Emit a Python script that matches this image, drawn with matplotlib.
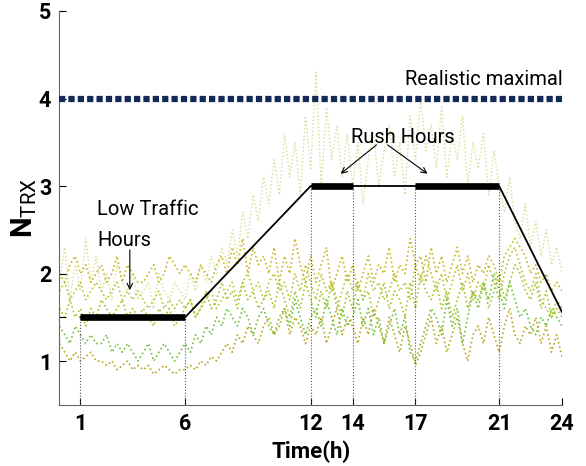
import numpy as np
import matplotlib
matplotlib.use("Agg")
import matplotlib.pyplot as plt
from matplotlib import font_manager

names = {f.name for f in font_manager.fontManager.ttflist}
FAM = "Liberation Sans Narrow" if "Liberation Sans Narrow" in names else (
    "Roboto" if "Roboto" in names else "Liberation Sans")
plt.rcParams['font.family'] = [FAM, 'DejaVu Sans']
plt.rcParams['mathtext.fontset'] = 'custom'
plt.rcParams['mathtext.rm'] = FAM
plt.rcParams['mathtext.bf'] = FAM + ':bold'

# ---------------- data ----------------
hours = np.arange(0, 24.001, 0.25)

trace_faint = [
    1.9, 2.3, 1.7, 2.1, 1.8, 2.4, 1.9, 2.2,
    1.8, 2.0, 1.7, 2.1, 1.9, 1.8, 2.0, 1.7,
    1.8, 1.9, 1.6, 2.0, 1.8, 1.7, 1.9, 1.8,
    1.7, 2.0, 1.8, 2.1, 1.9, 2.2, 2.0, 2.3,
    2.1, 2.5, 2.2, 2.7, 2.4, 2.9, 2.6, 3.1,
    2.8, 3.3, 2.9, 3.6, 3.1, 3.5, 2.9, 3.8,
    3.2, 4.3, 3.0, 3.9, 3.3, 3.7, 3.1, 3.6,
    3.0, 3.5, 2.8, 3.3, 3.6, 3.0, 3.4, 3.7,
    3.1, 3.5, 2.9, 3.8, 3.3, 4.0, 3.4, 3.7,
    3.2, 3.9, 3.1, 3.6, 3.3, 3.8, 3.0, 3.5,
    3.2, 3.6, 2.9, 3.4, 3.0, 2.7, 3.1, 2.6,
    2.4, 2.8, 2.3, 2.6, 2.2, 2.5, 2.1, 2.3,
    2.0]

trace_a = [
    2.0, 1.9, 2.1, 2.2, 2.0, 2.1, 1.9, 2.0,
    2.1, 1.9, 2.0, 2.2, 1.9, 2.1, 2.0, 1.9,
    1.9, 2.0, 2.1, 1.9, 2.0, 2.2, 2.1, 2.0,
    2.1, 2.0, 1.9, 2.1, 2.0, 1.9, 2.1, 2.2,
    2.0, 2.3, 2.1, 2.4, 2.0, 2.3, 2.1, 2.2,
    2.0, 2.3, 1.9, 2.2, 2.0, 2.4, 2.1, 1.9,
    2.2, 1.9, 2.1, 2.3, 1.8, 2.0, 2.2, 1.9,
    2.1, 1.8, 2.0, 2.2, 1.9, 2.1, 2.0, 2.3,
    1.9, 2.1, 2.0, 2.4, 2.1, 2.2, 1.9, 2.3,
    2.0, 2.2, 1.9, 2.1, 2.3, 2.0, 2.2, 1.9,
    2.1, 2.0, 2.2, 2.1, 1.9, 2.2, 2.3, 2.4,
    2.3, 2.2, 2.0, 2.1, 1.9, 2.0, 1.8, 1.9,
    1.8]

trace_b = [
    1.6, 1.5, 1.7, 1.5, 1.6, 1.4, 1.6, 1.5,
    1.7, 1.6, 1.5, 1.6, 1.7, 1.5, 1.6, 1.5,
    1.6, 1.5, 1.4, 1.6, 1.5, 1.6, 1.4, 1.5,
    1.6, 1.7, 1.5, 1.6, 1.8, 1.6, 1.7, 1.9,
    1.7, 1.8, 1.6, 1.9, 1.7, 1.8, 1.6, 1.7,
    1.8, 1.6, 1.9, 1.7, 1.5, 1.8, 1.6, 1.9,
    1.7, 1.5, 1.8, 1.6, 1.9, 1.7, 1.5, 1.8,
    1.6, 1.9, 1.7, 1.8, 1.5, 1.7, 1.9, 1.6,
    1.8, 1.7, 1.5, 1.9, 1.6, 2.0, 1.8, 1.7,
    1.9, 1.6, 1.8, 1.5, 1.7, 1.9, 1.6, 1.8,
    1.7, 1.9, 1.6, 1.8, 2.0, 1.7, 1.9, 2.1,
    2.0, 1.8, 1.7, 1.9, 1.6, 1.8, 1.5, 1.7,
    1.6]

trace_c = [
    1.4, 1.3, 1.2, 1.4, 1.3, 1.2, 1.3, 1.2,
    1.2, 1.3, 1.1, 1.2, 1.1, 1.2, 1.1, 1.0,
    1.1, 1.2, 1.0, 1.1, 1.2, 1.1, 1.0, 1.1,
    1.2, 1.1, 1.3, 1.2, 1.4, 1.3, 1.5, 1.4,
    1.6, 1.5, 1.4, 1.6, 1.5, 1.3, 1.5, 1.6,
    1.4, 1.3, 1.5, 1.6, 1.4, 1.7, 1.5, 1.3,
    1.5, 1.6, 1.4, 1.7, 1.5, 1.3, 1.6, 1.4,
    1.5, 1.7, 1.4, 1.6, 1.3, 1.5, 1.2, 1.4,
    1.6, 1.3, 1.5, 1.1, 1.0, 1.2, 1.4, 1.6,
    1.5, 1.3, 1.7, 1.4, 1.6, 1.2, 1.5, 1.8,
    1.6, 1.9, 1.7, 2.0, 1.8, 1.6, 1.9, 1.7,
    1.5, 1.6, 1.4, 1.3, 1.5, 1.4, 1.6, 1.5,
    1.4]

trace_d = [
    1.2, 1.1, 1.0, 1.1, 1.0, 1.05, 1.1, 1.0,
    1.0, 0.95, 1.0, 0.9, 0.95, 1.0, 0.9, 0.95,
    0.9, 0.95, 0.85, 0.9, 0.95, 0.9, 0.85, 0.9,
    0.9, 0.95, 0.9, 1.0, 0.95, 1.05, 1.0, 1.1,
    1.2, 1.1, 1.3, 1.2, 1.4, 1.3, 1.2, 1.4,
    1.5, 1.3, 1.4, 1.6, 1.3, 1.5, 1.4, 1.2,
    1.4, 1.3, 1.5, 1.2, 1.4, 1.6, 1.3, 1.5,
    1.4, 1.2, 1.5, 1.3, 1.6, 1.4, 1.2, 1.5,
    1.3, 1.1, 1.4, 1.2, 0.95, 1.1, 1.3, 1.5,
    1.2, 1.4, 1.1, 1.3, 1.5, 1.2, 1.0, 1.3,
    1.4, 1.2, 1.5, 1.3, 1.1, 1.4, 1.6, 1.3,
    1.2, 1.4, 1.3, 1.5, 1.2, 1.4, 1.1, 1.3,
    1.05]

trace_e = [
    1.8, 1.9, 1.7, 1.8, 1.9, 1.7, 1.8, 1.9,
    1.8, 1.7, 1.8, 1.9, 1.7, 1.8, 1.7, 1.8,
    1.7, 1.6, 1.7, 1.8, 1.6, 1.7, 1.6, 1.7,
    1.6, 1.7, 1.5, 1.6, 1.7, 1.8, 1.6, 1.7,
    1.8, 1.9, 1.7, 1.9, 2.0, 1.8, 1.9, 1.7,
    1.9, 2.0, 1.8, 1.9, 1.7, 2.0, 1.8, 2.1,
    1.9, 1.7, 2.0, 1.8, 1.9, 1.6, 1.8, 2.0,
    1.8, 1.9, 1.7, 2.0, 1.8, 1.9, 1.7, 1.8,
    2.0, 1.8, 1.9, 1.7, 2.1, 1.9, 2.2, 2.0,
    1.8, 2.0, 1.7, 1.9, 2.1, 1.8, 2.0, 1.7,
    1.9, 1.8, 2.1, 1.9, 1.7, 2.0, 2.2, 2.3,
    2.1, 1.9, 1.8, 2.0, 1.7, 1.6, 1.5, 1.6,
    1.5]

# target profile (black line)
profile_x = [1, 6, 12, 14, 17, 21, 24]
profile_y = [1.5, 1.5, 3.0, 3.0, 3.0, 3.0, 1.56]
busy_segments = [(1, 6, 1.5), (12, 14, 3.0), (17, 21, 3.0)]
realistic_max = 4.0

xticks = [1, 6, 12, 14, 17, 21, 24]
yticks = [1, 2, 3, 4, 5]

# ---------------- figure ----------------
fig = plt.figure(figsize=(5.86, 4.66), dpi=100)
ax = fig.add_axes([0.1015, 0.1314, 0.8575, 0.845])

traces = [
    (trace_faint, '#d6dd94', 1.0),
    (trace_a, '#c6b81e', 1.2),
    (trace_e, '#bcc232', 1.2),
    (trace_b, '#a6c42a', 1.2),
    (trace_c, '#6fc23a', 1.2),
    (trace_d, '#b8a81a', 1.2),
]
for vals, col, lw in traces:
    ax.plot(hours, vals, linestyle=':', color=col, linewidth=lw, zorder=1)

# vertical guides
for xv in xticks[:-1]:
    top = 1.5 if xv <= 6 else 3.0
    ax.plot([xv, xv], [0.5, top], linestyle=':', color='#555555', linewidth=0.8, zorder=2)

# profile line
ax.plot(profile_x, profile_y, color='black', linewidth=1.3, zorder=3)
for x0, x1, yv in busy_segments:
    ax.plot([x0, x1], [yv, yv], color='black', linewidth=4.8,
            solid_capstyle='butt', zorder=4)

# realistic maximal
ax.plot([0, 24], [realistic_max, realistic_max], color='#13295a', linewidth=4.5,
        linestyle=(0, (1.0, 0.5)), dash_capstyle='butt', zorder=4)

# annotations
fs = 14.5
ax.text(16.48, 4.15, 'Realistic maximal', fontsize=fs, va='baseline', ha='left')
ax.text(13.94, 3.49, 'Rush Hours', fontsize=fs, va='baseline', ha='left')
ax.text(1.79, 2.67, 'Low Traffic', fontsize=fs, va='baseline', ha='left')
ax.text(1.79, 2.31, 'Hours', fontsize=fs, va='baseline', ha='left')
arrow = dict(arrowstyle='->', color='black', lw=0.8, shrinkA=0, shrinkB=0)
ax.annotate('', xy=(13.43, 3.14), xytext=(15.14, 3.47), arrowprops=arrow)
ax.annotate('', xy=(17.58, 3.14), xytext=(15.67, 3.47), arrowprops=arrow)
ax.annotate('', xy=(3.36, 1.81), xytext=(3.36, 2.27), arrowprops=arrow)

ax.set_xlim(0, 24)
ax.set_ylim(0.5, 5)
ax.set_xticks(xticks)
ax.set_yticks(yticks)
ax.set_yticks([1.5], minor=True)
ax.tick_params(which='both', direction='in', length=5, width=0.8, labelsize=15.5, pad=6)
for lab in ax.get_xticklabels() + ax.get_yticklabels():
    lab.set_fontweight('bold')
for s in ['top', 'right']:
    ax.spines[s].set_visible(False)
for s in ['left', 'bottom']:
    ax.spines[s].set_color('#666666')
ax.set_xlabel('Time(h)', fontsize=16, fontweight='bold', labelpad=4)
ax.set_ylabel(r'$\mathbf{N}_{\mathrm{TRX}}$', fontsize=21)
ax.yaxis.set_label_coords(-0.04, 0.5)

fig.savefig('out.png', dpi=100)
